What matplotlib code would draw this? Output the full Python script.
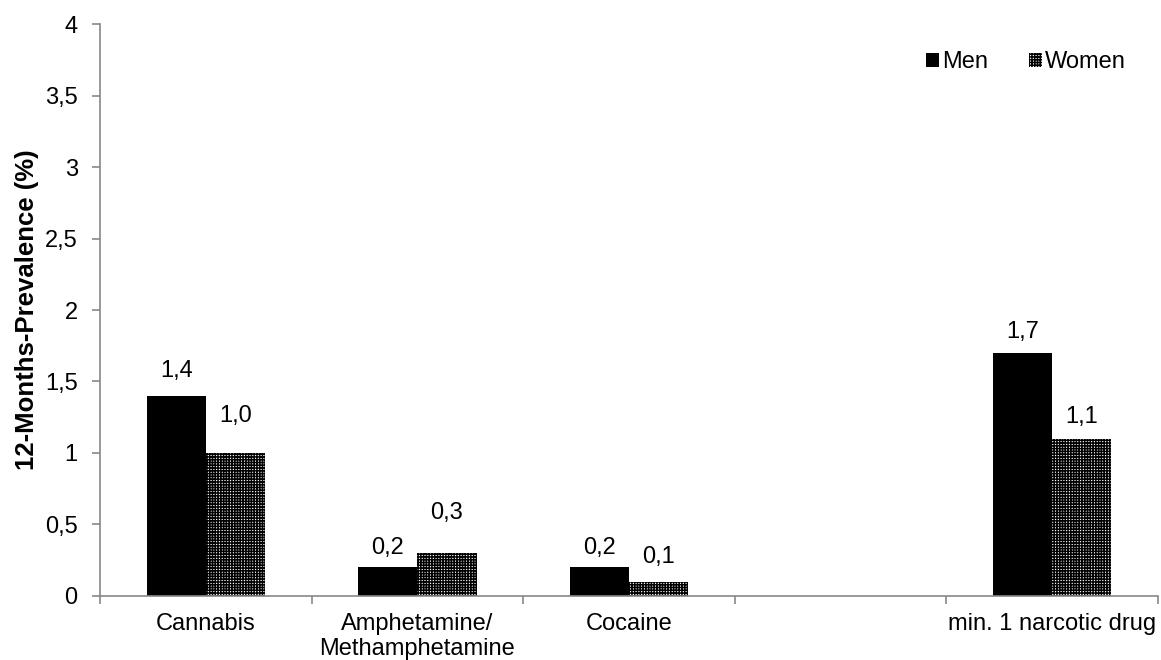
import matplotlib
matplotlib.use("Agg")
import matplotlib.pyplot as plt
from matplotlib.patches import Patch
import numpy as np

categories = ["Cannabis", "Amphetamine/\nMethamphetamine", "Cocaine", "", "min. 1 narcotic drug"]
men = [1.4, 0.2, 0.2, None, 1.7]
women = [1.0, 0.3, 0.1, None, 1.1]
y_ticks = [0, 0.5, 1, 1.5, 2, 2.5, 3, 3.5, 4]

# vertical offsets (points) of the value labels above each bar
men_label_offset = [10, 6, 6, None, 7]
women_label_offset = [19, 21, 9.5, None, 8]

plt.rcParams["font.family"] = ["Liberation Sans", "DejaVu Sans"]
plt.rcParams["hatch.linewidth"] = 1.1
plt.rcParams["hatch.color"] = "black"

fig = plt.figure(figsize=(11.61, 6.6), dpi=100)
ax = fig.add_axes([0.0861, 0.097, 0.9113, 0.8666])

x = np.arange(len(categories))
w = 0.28
fs = 17

def fmt(v):
    return f"{v:.1f}".replace(".", ",")

for i in range(len(categories)):
    if men[i] is not None:
        ax.bar(x[i] - w / 2, men[i], width=w, color="black", edgecolor="black", linewidth=0)
        ax.annotate(fmt(men[i]), (x[i] - w / 2, men[i]), xytext=(0, men_label_offset[i]),
                    textcoords="offset points", ha="center", va="bottom", fontsize=fs)
    if women[i] is not None:
        ax.bar(x[i] + w / 2, women[i], width=w, color="white", edgecolor="black",
               linewidth=0, hatch="++++++")
        ax.annotate(fmt(women[i]), (x[i] + w / 2, women[i]), xytext=(0, women_label_offset[i]),
                    textcoords="offset points", ha="center", va="bottom", fontsize=fs)

ax.set_xlim(-0.5, len(categories) - 0.5)
ax.set_ylim(0, 4)
ax.set_yticks(y_ticks)
ax.set_yticklabels([str(int(t)) if t == int(t) else fmt(t) for t in y_ticks], fontsize=fs)
ax.set_xticks(x)
ax.set_xticklabels(categories, fontsize=fs, linespacing=1.22)
ax.set_xticks(np.arange(-0.5, len(categories)), minor=True)
ax.tick_params(axis="x", which="major", length=0, pad=12)
ax.tick_params(axis="x", which="minor", length=6, color="#888888", width=1.2)
ax.tick_params(axis="y", length=6, color="#888888", width=1.2, pad=10)

for s in ["top", "right"]:
    ax.spines[s].set_visible(False)
for s in ["left", "bottom"]:
    ax.spines[s].set_color("#888888")
    ax.spines[s].set_linewidth(1.2)

ax.set_ylabel("12-Months-Prevalence (%)", fontsize=18.5, fontweight="bold", labelpad=4)

handles = [Patch(facecolor="black", edgecolor="black", linewidth=0),
           Patch(facecolor="white", edgecolor="black", linewidth=0, hatch="++++++")]
ax.legend(handles, ["Men", "Women"], loc="upper right", bbox_to_anchor=(0.99, 0.99),
          ncol=2, frameon=False, fontsize=fs, handlelength=0.55, handleheight=0.55,
          handletextpad=0.15, columnspacing=1.7)

fig.savefig("out.png", dpi=100)
